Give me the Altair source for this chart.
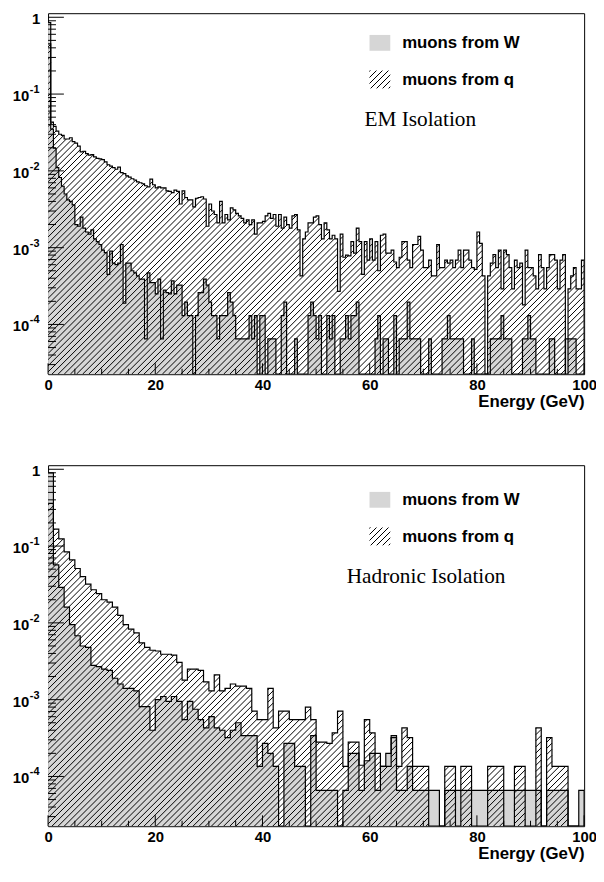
import numpy as np
import pandas as pd
import altair as alt

# ---------------- data ----------------
BIN_TOP = 0.5   # GeV per bin, EM isolation panel
BIN_BOT = 1.0   # GeV per bin, hadronic isolation panel

q_top = [
    0.45, 0.043, 0.038, 0.033, 0.030, 0.029, 0.026, 0.026, 0.027, 0.024,
    0.023, 0.021, 0.0177, 0.018, 0.0168, 0.016, 0.0163, 0.0152, 0.0145, 0.0143,
    0.014, 0.0131, 0.012, 0.0115, 0.011, 0.0105, 0.0112, 0.0095, 0.0092, 0.0086,
    0.0083, 0.0079, 0.0076, 0.0072, 0.0070, 0.0068, 0.0064, 0.0062, 0.0078, 0.0066,
    0.0060, 0.0062, 0.0060, 0.0060, 0.0055, 0.0054, 0.0052, 0.0056, 0.0054, 0.0037,
    0.0055, 0.0045, 0.0042, 0.0042, 0.0034, 0.0044, 0.0045, 0.0046, 0.0043, 0.0019,
    0.0037, 0.0030, 0.0027, 0.0021, 0.0040, 0.0021, 0.0027, 0.0023, 0.0033, 0.0031,
    0.0028, 0.0026, 0.0024, 0.0021, 0.0023, 0.0020, 0.0023, 0.0015, 0.0021, 0.0021,
    0.0022, 0.0026, 0.0028, 0.0024, 0.0027, 0.0019, 0.0027, 0.0018, 0.0025, 0.0020,
    0.0018, 0.0026, 0.0027, 0.0017, 0.00043, 0.0013, 0.0016, 0.0021, 0.0021, 0.0025,
    0.0026, 0.0020, 0.0013, 0.0021, 0.0017, 0.0013, 0.00145, 0.0013, 0.00027, 0.0015,
    0.00075, 0.0008, 0.00078, 0.0012, 0.00085, 0.0018, 0.0012, 0.00045, 0.0012, 0.00069,
    0.0013, 0.00069, 0.0012, 0.0005, 0.00145, 0.0015, 0.00085, 0.00085, 0.00093, 0.00065,
    0.00055, 0.00075, 0.0012, 0.0012, 0.00069, 0.00055, 0.0011, 0.0011, 0.0014, 0.00093,
    0.00055, 0.00055, 0.00069, 0.00043, 0.00043, 0.0011, 0.00055, 0.00055, 0.00069, 0.00063,
    0.00069, 0.00055, 0.00069, 0.00093, 0.00055, 0.00093, 0.00093, 0.00069, 0.00055, 0.00052,
    0.0016, 0.00114, 0.00043, 0.0, 0.00043, 0.00063, 0.00081, 0.00055, 0.00093, 0.00029,
    0.00093, 0.00081, 0.00055, 0.00029, 0.00069, 0.00055, 0.00063, 0.00018, 0.00093, 0.00055,
    0.00055, 0.00043, 0.00029, 0.00081, 0.00055, 0.00029, 0.00055, 0.00081, 0.00081, 0.00069,
    0.00029, 0.00069, 0.00081, 0.0, 0.00029, 0.00043, 0.00055, 0.00029, 0.00029, 0.00069,
]

w_top = [
    0.85, 0.035, 0.0197, 0.011, 0.0082, 0.0063, 0.005, 0.0042, 0.004, 0.0036,
    0.002, 0.0019, 0.0025, 0.0018, 0.0016, 0.0015, 0.0017, 0.0013, 0.0012, 0.0011,
    0.00093, 0.00086, 0.00045, 0.0009, 0.00063, 0.0006, 0.00063, 0.0011, 0.00019, 0.00063,
    0.00063, 0.0005, 0.00047, 0.00043, 0.00039, 0.00039, 0.000065, 0.00047, 0.00035, 0.00035,
    0.00025, 0.00039, 0.000065, 0.00028, 0.00026, 0.00025, 0.00037, 0.00025, 0.000325, 0.000325,
    0.00013, 0.000195, 0.00013, 0.00013, 0.0, 0.00013, 0.00026, 0.00026, 0.00039, 0.000325,
    0.000195, 0.00013, 0.00013, 0.000065, 0.00013, 0.00013, 0.00013, 0.00026, 0.000195, 0.00013,
    0.000065, 0.000065, 0.000065, 0.000065, 0.000065, 0.00013, 0.000065, 0.00013, 0.0, 0.00013,
    0.00013, 0.0, 0.000065, 0.000065, 0.000065, 0.0, 0.0, 0.00013, 0.000195, 0.0,
    0.0, 0.0, 0.000065, 0.0, 0.0, 0.0, 0.0, 0.00013, 0.000195, 0.00013,
    0.000065, 0.00013, 0.0, 0.0, 0.00013, 0.000065, 0.00013, 0.0, 0.0, 0.000065,
    0.000065, 0.00013, 0.000065, 0.00013, 0.00013, 0.000195, 0.0, 0.0, 0.0, 0.0,
    0.0, 0.0, 0.000065, 0.00013, 0.0, 0.000065, 0.000065, 0.0, 0.0, 0.00013,
    0.0, 0.000065, 0.000065, 0.000065, 0.000195, 0.000065, 0.000065, 0.000065, 0.000065, 0.0,
    0.0, 0.0, 0.000065, 0.0, 0.0, 0.0, 0.0, 0.000065, 0.000065, 0.00013,
    0.000065, 0.000065, 0.000065, 0.000065, 0.000065, 0.0, 0.0, 0.0, 0.000065, 0.0,
    0.0, 0.0, 0.0, 0.0, 0.0, 0.000065, 0.000065, 0.000065, 0.000065, 0.00013,
    0.000065, 0.000065, 0.000065, 0.0, 0.0, 0.0, 0.0, 0.000065, 0.000065, 0.00013,
    0.000065, 0.000065, 0.0, 0.0, 0.0, 0.0, 0.0, 0.000065, 0.000065, 0.0,
    0.0, 0.0, 0.0, 0.000065, 0.000065, 0.000065, 0.000065, 0.0, 0.0, 0.0,
]

q_bot = [
    0.36, 0.166, 0.124, 0.084, 0.066, 0.051, 0.040, 0.032, 0.027, 0.024,
    0.020, 0.0186, 0.016, 0.0125, 0.0095, 0.0083, 0.0074, 0.0055, 0.0048, 0.0044,
    0.0043, 0.0039, 0.0039, 0.0038, 0.00305, 0.0018, 0.0025, 0.0025, 0.0024, 0.0017,
    0.0013, 0.0021, 0.0013, 0.0014, 0.0016, 0.0015, 0.0015, 0.0014, 0.00071, 0.00055,
    0.00055, 0.0014, 0.00043, 0.00071, 0.00071, 0.00055, 0.00055, 0.00055, 0.0008, 0.00055,
    0.00028, 0.00028, 0.00027, 0.00037, 0.00071, 0.000135, 0.00028, 0.00028, 0.00014, 0.00055,
    0.00037, 0.0002, 0.000135, 0.000135, 0.00032, 0.000135, 0.00043, 0.00032, 0.000135, 0.000135,
    0.000135, 0.0, 0.0, 0.0, 0.000135, 0.000135, 0.0, 0.000135, 0.000135, 0.0,
    0.0, 0.0, 0.000135, 0.000135, 0.000135, 0.0, 0.0, 0.000135, 0.000135, 0.0,
    0.0, 0.00043, 0.0, 0.00032, 0.000135, 0.000135, 0.000135, 0.0, 0.0, 0.0,
]

w_bot = [
    0.9, 0.057, 0.029, 0.016, 0.0095, 0.0068, 0.005, 0.0048, 0.0028, 0.0027,
    0.0025, 0.0024, 0.0019, 0.0016, 0.0014, 0.0014, 0.0013, 0.00081, 0.00081, 0.0004,
    0.001, 0.0011, 0.00095, 0.0011, 0.00095, 0.00055, 0.00095, 0.00075, 0.00055, 0.00043,
    0.0006, 0.00043, 0.0004, 0.00032, 0.0004, 0.0005, 0.00034, 0.00034, 0.00034, 0.000135,
    0.00027, 0.0002, 0.000135, 0.0, 0.00027, 0.00027, 0.000135, 0.000135, 0.0, 0.00034,
    0.000066, 0.000066, 0.000066, 0.000066, 0.0, 0.000066, 0.0002, 0.0002, 0.000066, 0.00016,
    0.0002, 0.000066, 0.000135, 0.0002, 0.00034, 0.000066, 0.000066, 0.000135, 0.000066, 0.000066,
    0.000066, 0.000066, 0.000066, 0.0, 0.000066, 0.000066, 0.000066, 0.000066, 0.000066, 0.000066,
    0.000066, 0.000066, 0.000066, 0.000066, 0.000066, 0.000066, 0.000066, 0.000066, 0.000066, 0.000066,
    0.000066, 0.000066, 0.0, 0.000066, 0.000066, 0.000066, 0.000066, 0.0, 0.0, 0.000066,
]

legend_labels = ["muons from W", "muons from q"]
panel_titles = ["EM Isolation", "Hadronic Isolation"]
x_tick_labels = [0, 20, 40, 60, 80, 100]
y_powers = [-1, -2, -3, -4]

# ---------------- style ----------------
Y_MIN, Y_MAX = 2.25e-5, 1.13
PW, PH = 542, 365
SANS = "Liberation Sans"
SERIF = "Liberation Serif"
W_FILL = "#d6d6d6"
HATCH_STEP = 6.2       # horizontal distance between hatch lines, px
LOG_TOP, LOG_BOT = np.log10(Y_MAX), np.log10(Y_MIN)


def ypix(v):
    return PH * (LOG_TOP - np.log10(v)) / (LOG_TOP - LOG_BOT)


def yval(py):
    return 10.0 ** (LOG_TOP - py / PH * (LOG_TOP - LOG_BOT))


def hatch_frame(vals, binw):
    """'/' hatch lines (45 deg on screen) clipped to the inside of a step histogram,
    returned in data units so the marks go through the chart's own scales."""
    kx = PW / 100.0
    tops = [ypix(v) if v > 0 else PH for v in vals]
    xs, x2s, ys, y2s = [], [], [], []
    c = HATCH_STEP / 2
    while c < PW + PH:
        cur = None
        segs = []
        for i, t in enumerate(tops):
            xl, xr = i * binw * kx, (i + 1) * binw * kx
            if xl > c:
                break
            lo, hi = max(xl, c - PH), min(xr, c - t)
            if hi - lo > 1e-6:
                if cur is not None and abs(lo - cur[1]) < 1e-6:
                    cur[1] = hi
                else:
                    if cur is not None:
                        segs.append(cur)
                    cur = [lo, hi]
        if cur is not None:
            segs.append(cur)
        for lo, hi in segs:
            xs.append(round(lo / kx, 4))
            x2s.append(round(hi / kx, 4))
            ys.append(float("%.5g" % yval(c - lo)))
            y2s.append(float("%.5g" % yval(c - hi)))
        c += HATCH_STEP
    return pd.DataFrame({"x": xs, "x2": x2s, "v": ys, "v2": y2s})


def swatch_gradient(w, h, period=4.3, lw=1.0):
    """Small '/' hatched swatch for the legend."""
    s = (w + h) * w / (w * w + h * h)
    n = (w + h) / np.sqrt(2) / period
    stops = []
    k = 0
    while k < n:
        a = round(k / n, 5)
        b = round(min((k + lw / period) / n, 1.0), 5)
        c = round(min((k + 1) / n, 1.0), 5)
        stops += [{"offset": a, "color": "#000000"}, {"offset": b, "color": "#000000"},
                  {"offset": b, "color": "rgba(0,0,0,0)"}, {"offset": c, "color": "rgba(0,0,0,0)"}]
        k += 1
    return {"gradient": "linear", "x1": 0, "y1": 0, "x2": round(s, 5), "y2": round(s * h / w, 5),
            "stops": stops}


def hist_frame(vals, binw):
    edges = np.arange(len(vals) + 1) * binw
    v = np.array(list(vals) + [0.0])
    v = np.where(v > 0, v, Y_MIN)
    return pd.DataFrame({"x": edges, "v": v, "base": Y_MIN})


def text_layer(txt, x, y, size, font=SANS, weight="bold", align="left"):
    return alt.Chart(pd.DataFrame({"t": [txt]})).mark_text(
        align=align, baseline="middle", font=font, fontSize=size,
        fontWeight=weight, color="black"
    ).encode(x=alt.value(x), y=alt.value(y), text="t:N")


def panel(q, w, binw, title, title_x, dy):
    xs = alt.Scale(domain=[0, 100], nice=False, zero=False)
    ys = alt.Scale(type="log", domain=[Y_MIN, Y_MAX], nice=False)
    xaxis = alt.Axis(
        values=x_tick_labels, ticks=False, domain=False, grid=False,
        labelFont=SANS, labelFontSize=15, labelFontWeight="bold", labelColor="black",
        labelFlush=False, labelPadding=3, format="d",
        title="Energy (GeV)", titleAnchor="end", titleFont=SANS, titleFontSize=17,
        titleFontWeight="bold", titleColor="black", titlePadding=2,
    )
    X = alt.X("x:Q", scale=xs, axis=xaxis)
    Y = alt.Y("v:Q", scale=ys, axis=None)

    dq = hist_frame(q, binw)
    dw = hist_frame(w, binw)

    w_area = alt.Chart(dw).mark_area(interpolate="step-after", fill=W_FILL, clip=True).encode(
        x=X, y=Y, y2="base:Q")
    q_hatch = alt.Chart(hatch_frame(q, binw)).mark_rule(
        color="black", strokeWidth=1.0, clip=True).encode(x=X, x2="x2:Q", y=Y, y2="v2:Q")
    w_line = alt.Chart(dw).mark_line(interpolate="step-after", color="black", strokeWidth=1.2,
                                     clip=True).encode(x=X, y=Y)
    q_line = alt.Chart(dq).mark_line(interpolate="step-after", color="black", strokeWidth=1.2,
                                     clip=True).encode(x=X, y=Y)

    # log-axis ticks drawn inward (ROOT style)
    major_y = [10.0 ** p for p in range(-4, 1)]
    minor_y = [m * 10.0 ** p for p in range(-5, 0) for m in range(2, 10) if Y_MIN <= m * 10.0 ** p <= Y_MAX]
    ytm = alt.Chart(pd.DataFrame({"v": major_y})).mark_rule(color="black", strokeWidth=1).encode(
        y=Y, x=alt.value(0), x2=alt.value(16))
    ytn = alt.Chart(pd.DataFrame({"v": minor_y})).mark_rule(color="black", strokeWidth=1).encode(
        y=Y, x=alt.value(0), x2=alt.value(8))
    minor_x = [v for v in range(5, 100, 5) if v % 20]
    xtm = alt.Chart(pd.DataFrame({"x": x_tick_labels})).mark_rule(color="black", strokeWidth=1).encode(
        x=X, y=alt.value(PH), y2=alt.value(PH - 11))
    xtn = alt.Chart(pd.DataFrame({"x": minor_x})).mark_rule(color="black", strokeWidth=1).encode(
        x=X, y=alt.value(PH), y2=alt.value(PH - 5.5))

    # y tick labels: "1" and 10^-n with raised exponent
    one = alt.Chart(pd.DataFrame({"v": [1.0], "t": ["1"]})).mark_text(
        align="right", baseline="middle", font=SANS, fontSize=15, fontWeight="bold",
        color="black", dy=1.5).encode(y=Y, x=alt.value(-8), text="t:N")
    pw_df = pd.DataFrame({"v": [10.0 ** p for p in y_powers],
                          "b": ["10"] * len(y_powers),
                          "e": [str(p) for p in y_powers]})
    tens = alt.Chart(pw_df).mark_text(
        align="right", baseline="middle", font=SANS, fontSize=15, fontWeight="bold",
        color="black", dy=2).encode(y=Y, x=alt.value(-19), text="b:N")
    exps = alt.Chart(pw_df).mark_text(
        align="left", baseline="middle", font=SANS, fontSize=11, fontWeight="bold",
        color="black", dy=-4).encode(y=Y, x=alt.value(-18.5), text="e:N")

    # legend
    sw_w = alt.Chart(pd.DataFrame({"k": [0]})).mark_rect(fill=W_FILL).encode(
        x=alt.value(325), x2=alt.value(346), y=alt.value(24 + dy), y2=alt.value(40 + dy))
    sw_q = alt.Chart(pd.DataFrame({"k": [0]})).mark_rect(fill=swatch_gradient(21, 18)).encode(
        x=alt.value(325), x2=alt.value(346), y=alt.value(60 + dy), y2=alt.value(78 + dy))
    t_w = text_layer(legend_labels[0], 358, 32 + dy, 17)
    t_q = text_layer(legend_labels[1], 358, 69.5 + dy, 17)
    t_title = text_layer(title, title_x, 110 + dy, 21.5, font=SERIF, weight="normal")

    return alt.layer(
        w_area, q_hatch, w_line, q_line, ytm, ytn, xtm, xtn, one, tens, exps,
        sw_w, sw_q, t_w, t_q, t_title
    ).properties(width=PW, height=PH)


top = panel(q_top, w_top, BIN_TOP, panel_titles[0], 320, -2)
bot = panel(q_bot, w_bot, BIN_BOT, panel_titles[1], 302, 3)

chart = alt.vconcat(top, bot, spacing=92, bounds="flush").properties(
    padding={"left": 3.5, "top": -1.5, "right": -2, "bottom": 0},
    background="white",
).configure_view(stroke="black", strokeWidth=1)

chart.save("out.html", embed_options={"renderer": "svg", "actions": False})
